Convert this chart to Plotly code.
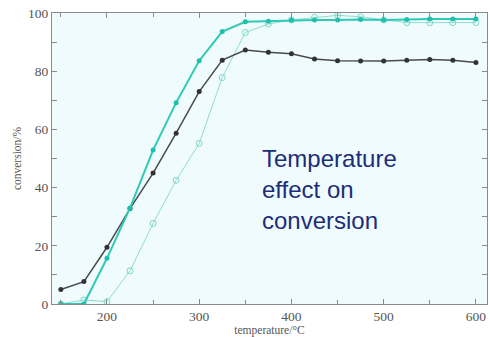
import plotly.graph_objects as go

temperature = [150, 175, 200, 225, 250, 275, 300, 325, 350, 375, 400, 425, 450, 475, 500, 525, 550, 575, 600]
conv_black = [5.0, 7.7, 19.5, 32.8, 45.0, 58.7, 73.0, 83.8, 87.3, 86.5, 86.0, 84.2, 83.6, 83.5, 83.5, 83.8, 84.0, 83.8, 83.0]
conv_teal = [0.0, 0.0, 15.7, 33.0, 52.9, 69.2, 83.6, 93.6, 97.0, 97.2, 97.5, 97.6, 97.6, 97.8, 97.6, 97.8, 97.9, 97.9, 97.9]
conv_teal_open = [0.0, 1.4, 0.8, 11.4, 27.7, 42.5, 55.2, 77.8, 93.3, 96.2, 97.6, 98.5, 99.2, 98.7, 97.6, 96.7, 96.7, 96.7, 96.7]

x_tick_vals = [200, 300, 400, 500, 600]
x_tick_text = ["200", "300", "400", "500", "600"]
y_tick_vals = [0, 10, 20, 30, 40, 50, 60, 70, 80, 90, 100]
y_tick_text = ["0", "", "20", "", "40", "", "60", "", "80", "", "100"]

SERIF = "Liberation Serif"

fig = go.Figure()
fig.add_trace(go.Scatter(
    x=temperature, y=conv_teal_open, mode="lines+markers",
    line=dict(color="#8fdcd2", width=1),
    marker=dict(symbol="circle-open", size=6, color="#7fd6cb", line=dict(width=1)),
    showlegend=False))
fig.add_trace(go.Scatter(
    x=temperature, y=conv_black, mode="lines+markers",
    line=dict(color="#4a4a4a", width=1.5),
    marker=dict(symbol="circle", size=5, color="#333333"),
    showlegend=False))
fig.add_trace(go.Scatter(
    x=temperature, y=conv_teal, mode="lines+markers",
    line=dict(color="#2fcab6", width=2),
    marker=dict(symbol="circle", size=5, color="#1fc0ab"),
    showlegend=False))

# plot area in page coords: left 52, right 487, top 13, bottom 304
fig.add_annotation(
    x=(260 - 52) / 435, y=(304 - 189) / 291, xref="paper", yref="paper", showarrow=False,
    text="Temperature<br>effect on<br>conversion",
    xanchor="left", yanchor="middle", align="left",
    font=dict(family="Liberation Sans, Arial", size=24, color="#1c2d7a"),
)

axis_common = dict(
    showline=True, linecolor="#8a8a8a", linewidth=1, mirror="ticks",
    ticks="inside", ticklen=5, tickcolor="#8a8a8a", showgrid=False, zeroline=False,
    tickfont=dict(family=SERIF, size=13.5, color="#555555"),
)

fig.update_xaxes(
    range=[140.4, 612], tickvals=x_tick_vals, ticktext=x_tick_text,
    minor=dict(dtick=50, tick0=0, ticks="inside", ticklen=4, tickcolor="#8a8a8a"),
    title=dict(text="temperature/°C", standoff=4,
               font=dict(family=SERIF, size=11.5, color="#555555")),
    **axis_common)
fig.update_yaxes(
    range=[0, 100], tickvals=y_tick_vals, ticktext=y_tick_text,
    title=dict(text="conversion/%", standoff=4,
               font=dict(family=SERIF, size=11.5, color="#555555")),
    **axis_common)

fig.update_layout(
    width=490, height=337,
    margin=dict(l=52, r=3, t=13, b=33, autoexpand=False),
    paper_bgcolor="white", plot_bgcolor="#f0fbfd",
)

fig.write_html("out.html", config={"displayModeBar": False},
               post_script="document.body.style.margin='0';document.body.style.overflow='hidden';")
